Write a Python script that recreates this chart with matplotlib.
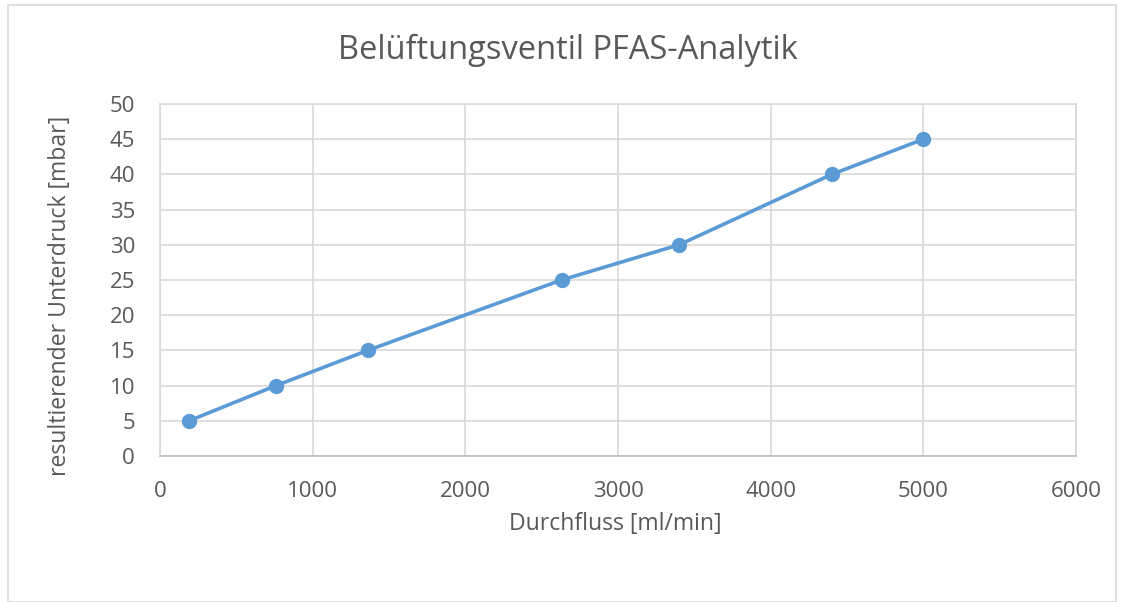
import matplotlib
matplotlib.use("Agg")
import matplotlib.pyplot as plt
from matplotlib.patches import Rectangle

flow = [190, 760, 1360, 2630, 3400, 4400, 5000]
pressure = [5, 10, 15, 25, 30, 40, 45]
x_ticks = [0, 1000, 2000, 3000, 4000, 5000, 6000]
y_ticks = [0, 5, 10, 15, 20, 25, 30, 35, 40, 45, 50]

title = "Belüftungsventil PFAS-Analytik"
xlabel = "Durchfluss [ml/min]"
ylabel = "resultierender Unterdruck [mbar]"

plt.rcParams['font.family'] = ['Open Sans', 'DejaVu Sans']
txt = '#595959'
grid = '#d9d9d9'
blue = '#5b9bd5'

fig = plt.figure(figsize=(11.24, 6.02), dpi=100)
ax = fig.add_axes([160/1124, 1-456/602, (1076-160)/1124, (456-104)/602])

ax.plot(flow, pressure, color=blue, lw=2.6, marker='o', ms=10, zorder=3, clip_on=False)
ax.set_xlim(0, 6000)
ax.set_ylim(0, 50)
ax.set_xticks(x_ticks)
ax.set_yticks(y_ticks)
ax.grid(True, color=grid, lw=1.2)
ax.set_axisbelow(True)
for s in ax.spines.values():
    s.set_color(grid)
    s.set_linewidth(1.2)
ax.spines['bottom'].set_color('#bfbfbf')
ax.tick_params(length=0, labelsize=16, colors=txt, pad=18)
ax.tick_params(axis='x', pad=18)

fig.text(568/1124, 1-50/602, title, ha='center', va='center', fontsize=23.5, color=txt)
fig.text(615/1124, 1-524/602, xlabel, ha='center', va='center', fontsize=16.6, color=txt)
fig.text(60/1124, 1-296/602, ylabel, ha='center', va='center', fontsize=16.6, color=txt, rotation=90)

fig.patches.append(Rectangle((8/1124, 0), 1-16/1124, 1-5/602, transform=fig.transFigure,
                             fill=False, edgecolor='#d9d9d9', lw=1.2))

fig.savefig('out.png', dpi=100)
